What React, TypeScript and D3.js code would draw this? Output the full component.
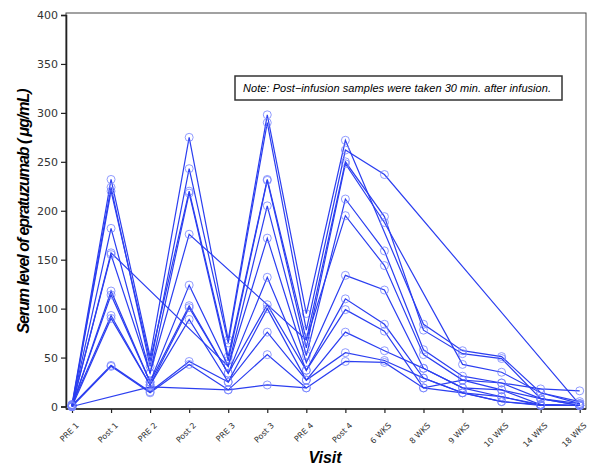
import { useRef, useEffect } from "react";
import * as d3 from "d3";

// visits along the x axis
const visits = [
  "PRE 1", "Post 1", "PRE 2", "Post 2", "PRE 3", "Post 3", "PRE 4",
  "Post 4", "6 WKS", "8 WKS", "9 WKS", "10 WKS", "14 WKS", "18 WKS",
];
const yTicks = [0, 50, 100, 150, 200, 250, 300, 350, 400];

// serum level per subject (null = no sample at that visit)
const s01 = [2, 232, 51, 275, 68, 298, 95, 272, null, 84, 57, 51, 14, 3];
const s02 = [1, 224, 41, 243, 65, 290, 78, 262, 237, null, null, null, null, 2];
const s03 = [0, 220, 47, 220, 51, 232, 68, 250, 194, 78, 54, 49, 8, 1];
const s04 = [1, 182, 34, 218, 47, 231, 60, 248, 188, null, 43, 35, 14, 5];
const s05 = [0, 157, null, null, 41, 205, 52, 212, 159, 58, 31, 24, 8, 1];
const s06 = [1, 155, 34, 176, null, null, 68, 195, 144, 53, 27, 17, 2, 1];
const s07 = [0, 118, 25, 124, 41, 172, 45, 134, 119, 39, 19, 10, 1, 1];
const s08 = [1, 114, 25, 103, 34, 132, 37, 110, 84, 29, 14, 5, 2, 1];
const s09 = [2, 93, 22, 101, 34, 104, 37, 99, 77, 19, 27, 24, 18, 16];
const s10 = [0, 90, 22, 89, 25, 100, 27, 76, 57, 39, 19, 17, 8, 3];
const s11 = [1, 42, 15, 46, 25, 76, 27, 55, 47, 29, 14, 10, 2, 1];
const s12 = [0, 41, 14, 43, 17, 53, 19, 46, 45, 19, 14, 5, 1, 1];
const s13 = [0, null, 20, null, 17, 22, 19, null, null, null, null, null, null, null];
const subjects = [s01, s02, s03, s04, s05, s06, s07, s08, s09, s10, s11, s12, s13];

export default function App() {
  const svgRef = useRef<SVGSVGElement>(null);

  useEffect(() => {
    const w = 600;
    const h = 472;
    const svg = d3.select(svgRef.current).attr("width", w).attr("height", h);
    svg.selectAll("*").remove();

    const left = 66, right = 586, top = 13, bottom = 409;
    const x = d3.scalePoint().domain(visits).range([72, 579.7]);
    const y = d3.scaleLinear().domain([0, 400]).range([406.5, 15]);

    // frame
    svg.append("rect")
      .attr("x", left).attr("y", top)
      .attr("width", right - left).attr("height", bottom - top)
      .attr("fill", "none").attr("stroke", "#444").attr("stroke-width", 1);

    // axes
    const yAxis = d3.axisLeft(y).tickValues(yTicks).tickSize(5).tickPadding(3);
    const gy = svg.append("g").attr("transform", `translate(${left},0)`).call(yAxis);
    gy.select(".domain").attr("stroke", "#222").attr("stroke-width", 1.6);
    gy.selectAll("line").attr("stroke", "#222").attr("stroke-width", 1.2);
    gy.selectAll("text")
      .attr("font-family", "DejaVu Sans").attr("font-size", 11).attr("fill", "#333");

    const xAxis = d3.axisBottom(x).tickSize(4).tickSizeOuter(0);
    const gx = svg.append("g").attr("transform", `translate(0,${bottom})`).call(xAxis);
    gx.select(".domain").attr("stroke", "#222").attr("stroke-width", 1.6)
      .attr("d", `M${left},0H${right}`);
    gx.selectAll("line").attr("stroke", "#222").attr("stroke-width", 1.2);
    gx.selectAll("text")
      .attr("font-family", "DejaVu Sans").attr("font-size", 8).attr("fill", "#333")
      .attr("text-anchor", "end")
      .attr("dy", 0)
      .attr("transform", "translate(2,12) rotate(-45)");

    // subject lines
    const line = d3.line<[string, number]>()
      .x((d) => x(d[0]) as number)
      .y((d) => y(d[1]));

    subjects.forEach((vals) => {
      const pts = vals
        .map((v, i) => [visits[i], v] as [string, number | null])
        .filter((d) => d[1] != null) as [string, number][];
      svg.append("path")
        .attr("d", line(pts))
        .attr("fill", "none")
        .attr("stroke", "#2b3ef0")
        .attr("stroke-width", 1.2);
      svg.append("g")
        .selectAll("circle")
        .data(pts)
        .join("circle")
        .attr("cx", (d) => x(d[0]) as number)
        .attr("cy", (d) => y(d[1]))
        .attr("r", 4)
        .attr("fill", "none")
        .attr("stroke", "#7583ff")
        .attr("stroke-width", 0.8);
    });

    // note box
    svg.append("rect")
      .attr("x", 235).attr("y", 76).attr("width", 327).attr("height", 24)
      .attr("fill", "white").attr("stroke", "#333").attr("stroke-width", 1.5);
    svg.append("text")
      .attr("x", 243).attr("y", 92)
      .attr("font-family", "Liberation Sans").attr("font-style", "italic")
      .attr("font-size", 11).attr("textLength", 308).attr("lengthAdjust", "spacing")
      .text("Note:  Post\u2212infusion samples were taken 30 min. after infusion.");

    // axis titles
    svg.append("text")
      .attr("transform", "translate(29,211) rotate(-90)")
      .attr("text-anchor", "middle")
      .attr("font-family", "Liberation Sans").attr("font-style", "italic")
      .attr("font-weight", "bold").attr("font-size", 16)
      .attr("textLength", 245).attr("lengthAdjust", "spacing")
      .text("Serum level of epratuzumab ( \u03bcg/mL)");
    svg.append("text")
      .attr("x", 325).attr("y", 463)
      .attr("text-anchor", "middle")
      .attr("font-family", "Liberation Sans").attr("font-style", "italic")
      .attr("font-weight", "bold").attr("font-size", 16)
      .text("Visit");
  }, []);

  return (
    <svg ref={svgRef} style={{ position: "absolute", left: 0, top: 0 }}></svg>
  );
}
